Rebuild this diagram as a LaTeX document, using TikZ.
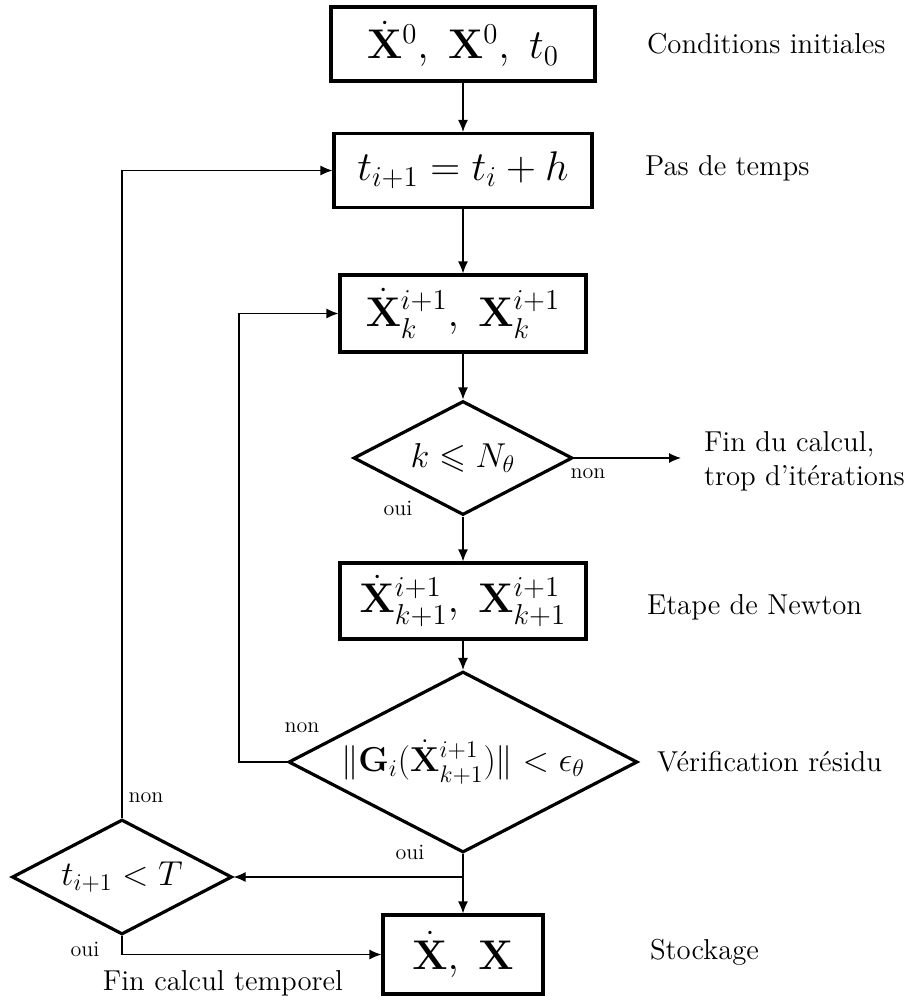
\documentclass[tikz,border=0pt]{standalone}
\usepackage{amsmath,amssymb}
\usepackage{tikz}
\usetikzlibrary{arrows.meta,shapes.geometric}
\tikzset{
  procbox/.style={draw,line width=1.6pt,inner sep=0pt,minimum height=37pt,font=\huge},
  testdia/.style={draw,diamond,aspect=1.9,line width=1.6pt,inner sep=0pt,font=\LARGE},
  sidenote/.style={anchor=west,align=left,font=\fontsize{14.4}{17}\selectfont},
  tag/.style={inner sep=0pt,font=\fontsize{11}{13}\selectfont},
  flow/.style={line width=0.6pt,-{Latex[length=6pt,width=5pt]}}
}
\begin{document}
\begin{tikzpicture}[x=0.5pt,y=-0.5pt]
\useasboundingbox (0,0) rectangle (920,1001);
% main column
\node[procbox,minimum width=132pt] (init) at (463,44) {$\dot{\mathbf{X}}^0,\ \mathbf{X}^0,\ t_0$};
\node[procbox,minimum width=129pt] (step) at (463,170.5) {$t_{i+1} = t_i + h$};
\node[procbox,minimum width=123pt,minimum height=38.5pt] (iter) at (463,313.5) {$\dot{\mathbf{X}}_k^{i+1},\ \mathbf{X}_k^{i+1}$};
\node[testdia,minimum width=109.5pt,minimum height=57pt] (kmax) at (463,458) {$k \leqslant N_\theta$};
\node[procbox,minimum width=123pt,minimum height=38pt] (newton) at (463,601) {$\dot{\mathbf{X}}_{k+1}^{i+1},\ \mathbf{X}_{k+1}^{i+1}$};
\node[testdia,inner sep=-2pt,font=\fontsize{18.5}{22}\selectfont,minimum width=174.5pt,minimum height=90.5pt] (resid) at (463,762) {$\|\mathbf{G}_i(\dot{\mathbf{X}}_{k+1}^{i+1})\| < \epsilon_\theta$};
\node[procbox,minimum width=80pt,minimum height=39.5pt] (store) at (463,954.5) {$\dot{\mathbf{X}},\ \mathbf{X}$};
\node[testdia,minimum width=110pt,minimum height=57.5pt] (tend) at (122,877) {$t_{i+1} < T$};
% side notes
\node[sidenote] at (640,44) {Conditions initiales};
\node[sidenote] at (638,168) {Pas de temps};
\node[sidenote] at (697,461) {Fin du calcul,\\trop d'itérations};
\node[sidenote] at (640,607) {Etape de Newton};
\node[sidenote] at (650,762) {Vérification résidu};
\node[sidenote] at (643,952) {Stockage};
\node[sidenote,anchor=center] at (223,983) {Fin calcul temporel};
% oui / non
\node[tag] at (588,474) {non};
\node[tag] at (398,508) {oui};
\node[tag] at (302,728) {non};
\node[tag] at (410,852) {oui};
\node[tag] at (146,798) {non};
\node[tag] at (85,949) {oui};
% connectors
\coordinate (abort) at (681,458);
\draw[flow] (init) -- (step);
\draw[flow] (step) -- (iter);
\draw[flow] (iter) -- (kmax);
\draw[flow] (kmax.east) -- (abort);
\draw[flow] (kmax) -- (newton);
\draw[flow] (newton) -- (resid);
\draw[flow] (resid.west) -- ++(-48,0) |- (iter.west);
\draw[flow] (resid.south) -- (store.north);
\draw[flow] (resid.south |- tend.east) -- (tend.east);
\draw[flow] (tend.north) |- (step.west);
\draw[flow] (tend.south) |- (store.west);
\end{tikzpicture}
\end{document}
